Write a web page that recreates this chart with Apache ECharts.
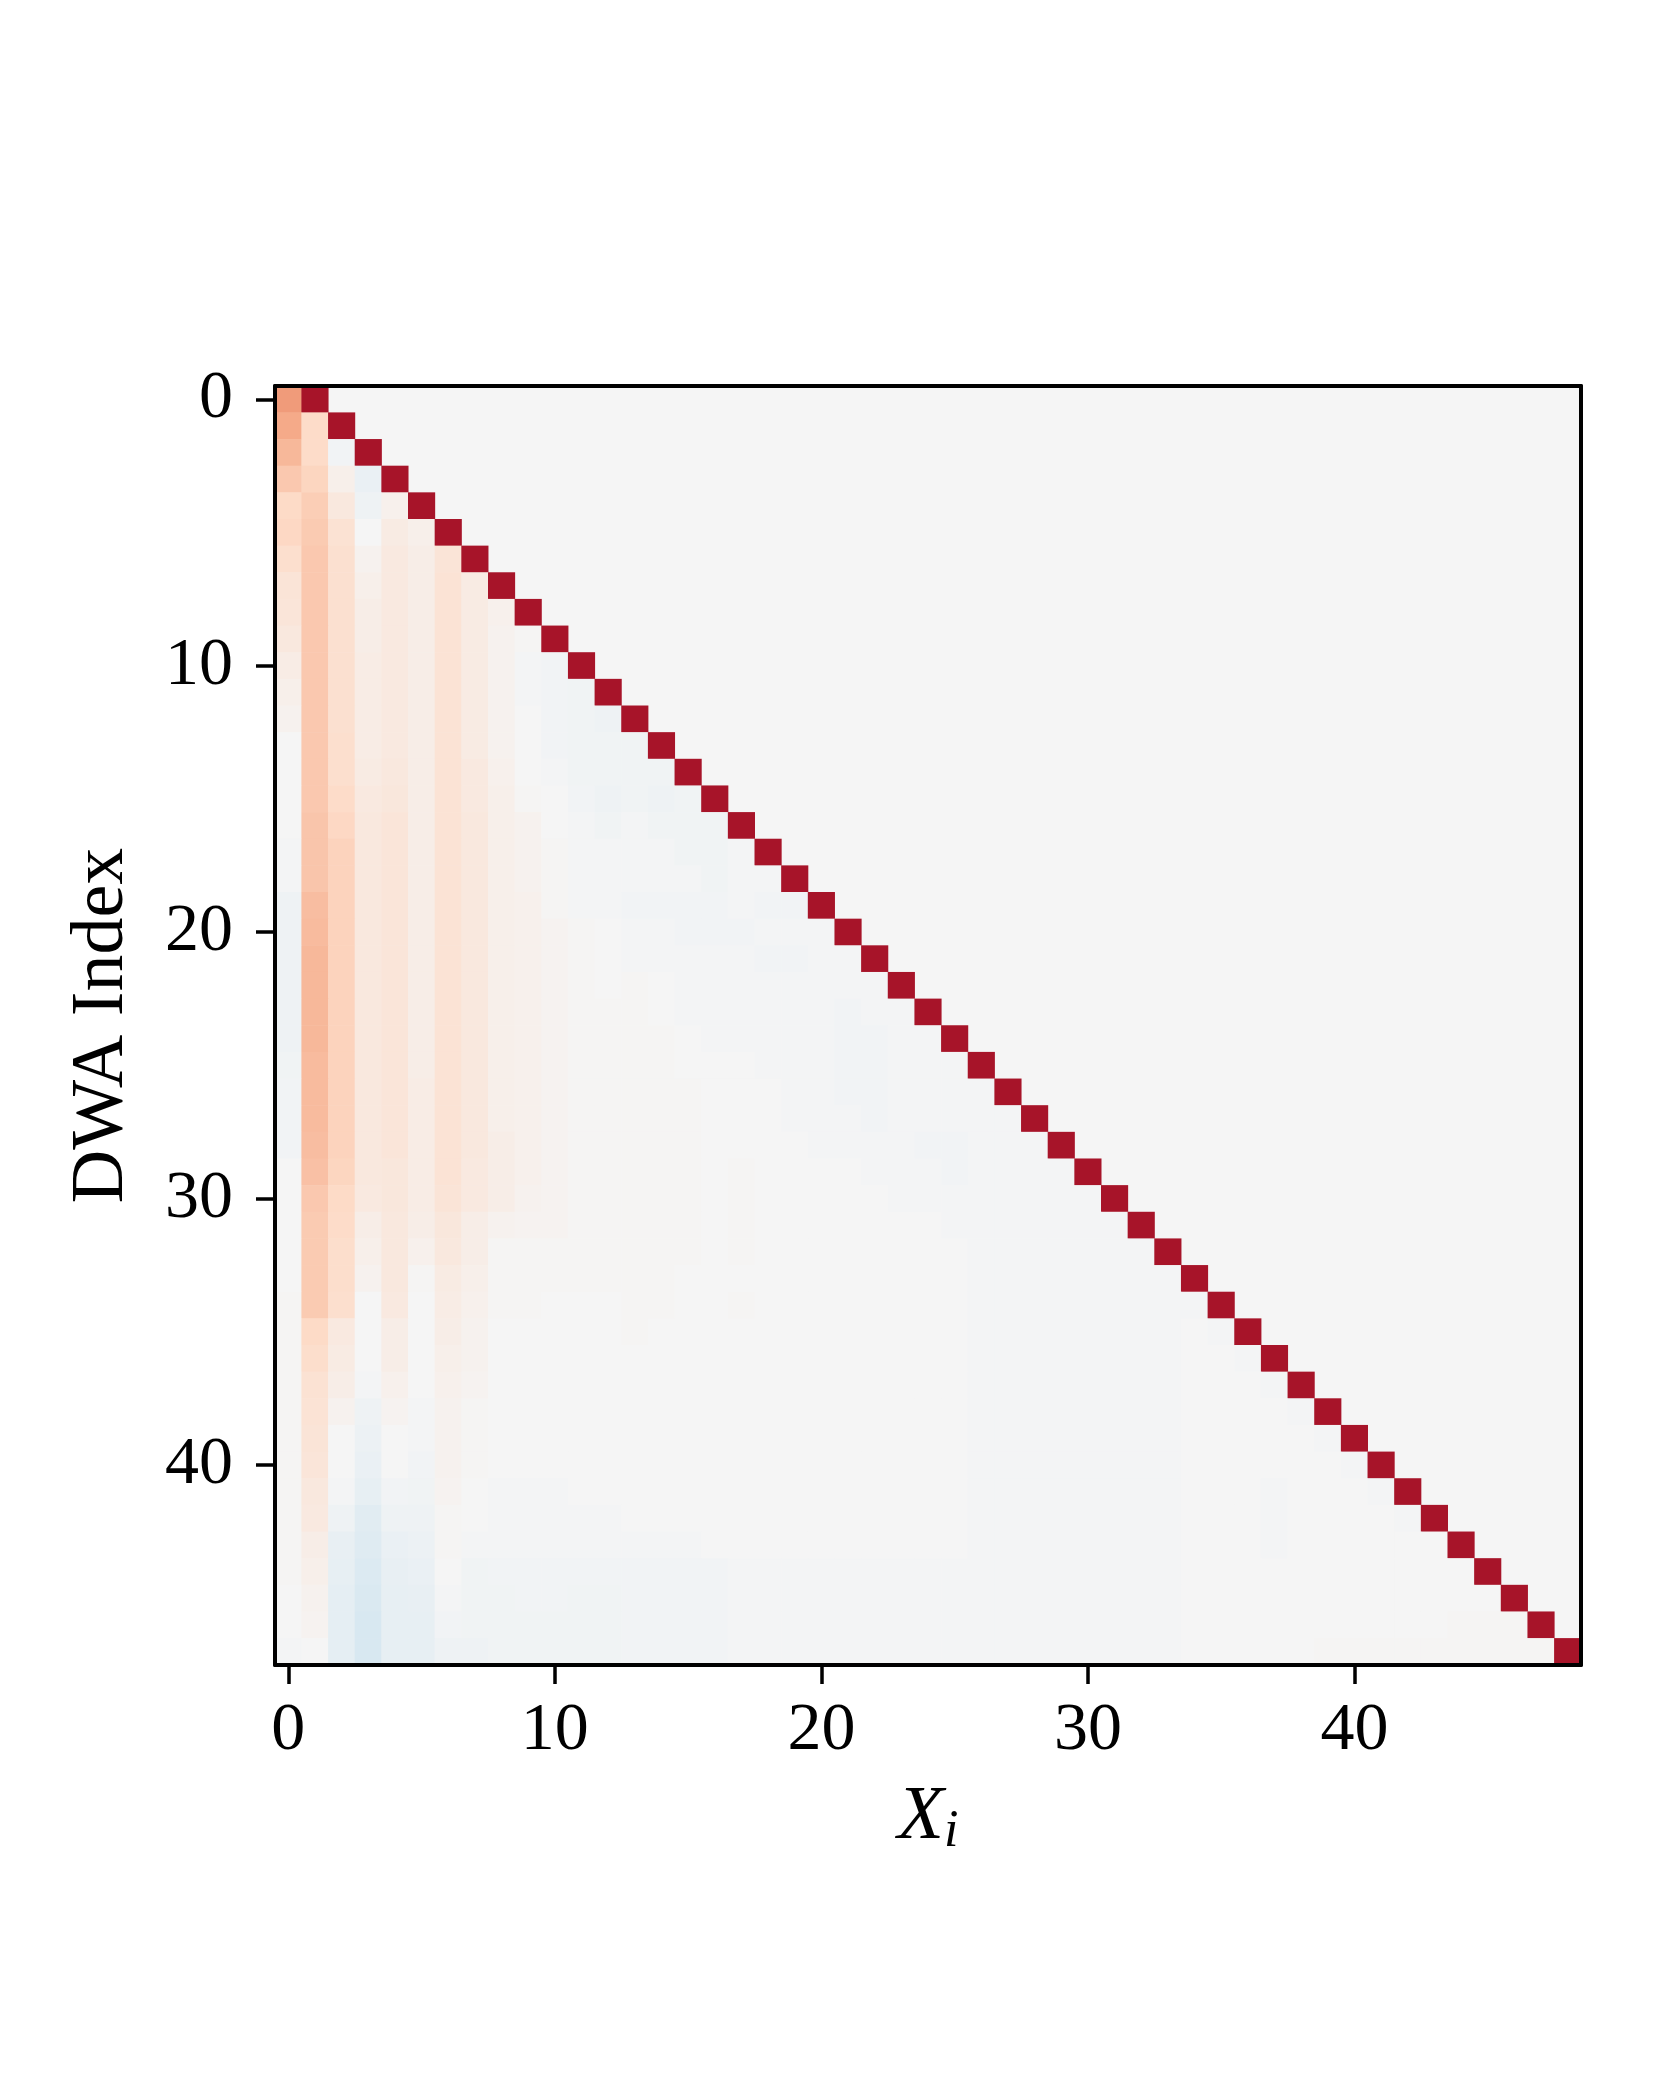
<!DOCTYPE html>
<html>
<head>
<meta charset="utf-8">
<script src="https://cdn.jsdelivr.net/npm/echarts@6/dist/echarts.min.js"></script>
<style>
  html, body { margin: 0; padding: 0; background: #fff; }
  #chart { width: 1661px; height: 2076px; }
</style>
</head>
<body>
<div id="chart"></div>
<script>
// weights x100; row r holds columns 0..r, column r+1 is the diagonal cell
const rows = [
  [43],
  [38, 19],
  [33, 19, -2],
  [27, 22, 5, -6],
  [20, 25, 10, -4, 4],
  [21, 26, 15, 0, 8, 5],
  [17, 27, 16, 3, 9, 6, 13],
  [13, 27, 16, 5, 9, 6, 14, 8],
  [12, 27, 16, 6, 9, 6, 14, 8, 4],
  [10, 27, 16, 6, 9, 6, 14, 8, 3, 1],
  [7, 27, 16, 7, 9, 6, 14, 8, 3, -1, -2],
  [5, 27, 16, 7, 9, 6, 14, 8, 3, -1, -2, -3],
  [3, 27, 16, 7, 9, 6, 14, 8, 3, 0, -2, -3, -4],
  [0, 27, 17, 7, 9, 6, 14, 8, 3, 0, -2, -3, -3, -3],
  [0, 27, 17, 8, 10, 6, 14, 9, 4, 0, -1, -3, -3, -3, -3],
  [0, 27, 19, 9, 11, 6, 14, 9, 5, 1, 0, -2, -4, -3, -4, -3],
  [0, 28, 21, 10, 12, 6, 14, 10, 5, 3, 0, -1, -3, -1, -3, -3, -3],
  [-1, 28, 23, 10, 12, 6, 14, 10, 5, 3, 1, -1, -1, -1, -1, -3, -3, -1],
  [-1, 28, 23, 10, 12, 6, 14, 10, 5, 3, 1, -1, -1, -1, -1, -1, -3, -1, -1],
  [-4, 31, 23, 10, 12, 6, 14, 10, 5, 4, 1, -1, -1, -2, -2, -2, -2, -1, -2, -2],
  [-4, 32, 23, 10, 12, 6, 14, 10, 5, 4, 2, 1, 0, -1, -1, -2, -2, -2, -1, -1, -1],
  [-4, 33, 23, 10, 12, 6, 14, 10, 5, 4, 2, 1, 0, -1, -1, -1, -1, -1, -2, -2, -1, -1],
  [-4, 33, 23, 10, 12, 6, 14, 10, 5, 4, 2, 1, 0, 1, 0, -1, -1, -1, -1, -1, -1, -1, -1],
  [-4, 33, 23, 10, 12, 6, 14, 10, 5, 4, 2, 1, 1, 1, 0, -1, -1, -1, -1, -1, -1, -2, -1, -1],
  [-4, 33, 23, 10, 12, 6, 14, 10, 5, 4, 2, 1, 1, 1, 1, 0, -1, -1, -1, -1, -1, -2, -2, -1, -1],
  [-3, 32, 23, 10, 12, 6, 14, 10, 5, 4, 2, 1, 1, 1, 1, 0, 0, 0, -1, -1, -1, -2, -2, -1, -1, -1],
  [-2, 32, 23, 10, 12, 7, 14, 10, 5, 4, 2, 1, 1, 1, 1, 1, 0, 0, 0, -1, -1, -2, -2, -1, -1, -1, -1],
  [-2, 32, 23, 10, 12, 7, 14, 10, 5, 4, 2, 1, 1, 1, 1, 1, 0, 0, 0, -1, -1, -1, -2, -1, -1, -1, -1, -1],
  [-2, 31, 23, 10, 12, 7, 14, 10, 6, 4, 2, 1, 1, 1, 1, 1, 0, 0, 0, 0, -1, -1, -1, -1, -2, -2, -1, -1, -1],
  [0, 30, 22, 10, 11, 7, 14, 9, 6, 4, 2, 1, 1, 1, 1, 1, 0, 1, 0, 0, 0, 0, -1, -1, -1, -2, -1, -1, -1, -1],
  [0, 27, 20, 9, 11, 7, 13, 9, 6, 3, 2, 1, 1, 1, 1, 1, 0, 1, 0, 0, 0, 0, 0, -1, -1, -1, -1, -1, -1, -1, -1],
  [0, 26, 19, 6, 10, 6, 11, 6, 3, 2, 2, 1, 1, 1, 1, 1, 0, 1, 0, 0, 0, 0, 0, 0, 0, -1, -1, -1, -1, -1, -1, -1],
  [0, 26, 18, 5, 10, 4, 10, 6, 1, 1, 1, 1, 1, 1, 1, 1, 0, 1, 0, 0, 0, 0, 0, 0, 0, 0, -1, -1, -1, -1, -1, -1, -1],
  [0, 26, 18, 3, 10, 1, 8, 5, 1, 1, 1, 1, 1, 1, 1, 0, 0, 0, 0, 0, 0, 0, 0, 0, 0, 0, -1, -1, -1, -1, -1, -1, -1, -1],
  [1, 26, 17, 0, 9, 0, 7, 4, 1, 1, 0, 0, 0, 1, 1, 0, 0, 1, 0, 0, 0, 0, 0, 0, 0, 0, -1, -1, -1, -1, -1, -1, -1, -1, -1],
  [1, 20, 9, 0, 6, 0, 6, 3, 0, 0, 0, 0, 0, 1, 0, 0, 0, 0, 0, 0, 0, 0, 0, 0, 0, 0, -1, -1, -1, -1, -1, -1, -1, -1, 0, -1],
  [1, 18, 8, 0, 6, 0, 5, 3, 0, 0, 0, 0, 0, 0, 0, 0, 0, 0, 0, 0, 0, 0, 0, 0, 0, 0, -1, -1, -1, -1, -1, -1, -1, -1, 0, 0, -1],
  [1, 15, 6, -1, 4, 0, 4, 2, 0, 0, 0, 0, 0, 0, 0, 0, 0, 0, 0, 0, 0, 0, 0, 0, 0, 0, -1, -1, -1, -1, -1, -1, -1, -1, 0, 0, 0, -1],
  [1, 14, 3, -4, 2, -1, 3, 1, 0, 0, 0, 0, 0, 0, 0, 0, 0, 0, 0, 0, 0, 0, 0, 0, 0, 0, -1, -1, -1, -1, -1, -1, -1, -1, 0, 0, 0, 0, -1],
  [1, 13, 0, -5, 0, -1, 3, 1, 0, 0, 0, 0, 0, 0, 0, 0, 0, 0, 0, 0, 0, 0, 0, 0, 0, 0, -1, -1, -1, -1, -1, -1, -1, -1, 0, 0, 0, 0, 0, -1],
  [1, 12, 0, -6, 0, -2, 3, 1, 0, 0, 0, 0, 0, 0, 0, 0, 0, 0, 0, 0, 0, 0, 0, 0, 0, 0, -1, -1, -1, -1, -1, -1, -1, -1, 0, 0, 0, 0, 0, 0, -1],
  [1, 10, -1, -8, -2, -3, 2, 0, -1, -1, -1, 0, 0, 0, 0, 0, 0, 0, 0, 0, 0, 0, 0, 0, 0, 0, -1, -1, -1, -1, -1, -1, -1, -1, 0, 0, 0, -1, 0, 0, 0, -1],
  [1, 9, -4, -11, -4, -4, 1, 0, -1, -1, -1, -1, -1, 0, 0, 0, 0, 0, 0, 0, 0, 0, 0, 0, 0, 0, -1, -1, -1, -1, -1, -1, -1, -1, 0, 0, 0, -1, 0, 0, 0, 0, -1],
  [1, 6, -7, -12, -6, -5, 1, -1, -1, -1, -1, -1, -1, -1, -1, -1, 0, 0, 0, 0, 0, 0, 0, 0, 0, 0, -1, -1, -1, -1, -1, -1, -1, -1, 0, 0, 0, -1, 0, 0, 0, 0, 0, 0],
  [1, 5, -8, -14, -7, -6, 0, -3, -2, -2, -2, -2, -2, -2, -2, -2, -2, -1, -1, -1, -1, -1, -1, -1, -1, -1, -1, -1, -1, -1, -1, -1, -1, -1, 0, 0, 0, 0, 0, 0, 0, 0, 0, 0, 0],
  [0, 3, -9, -15, -8, -7, -1, -3, -3, -2, -2, -3, -3, -2, -2, -2, -2, -1, -1, -1, -1, -1, -1, -1, -1, -1, -1, -1, -1, -1, -1, -1, -1, -1, 0, 0, 0, 0, 0, 0, 0, 0, 0, 0, 0, 0],
  [0, 2, -9, -16, -8, -8, -2, -3, -3, -3, -3, -3, -3, -2, -2, -2, -2, -1, -1, -1, -1, -1, -1, -1, -1, -1, -1, -1, -1, -1, -1, -1, -1, -1, 0, 0, 0, 0, 0, 0, 0, 0, 0, 0, 1, 1, 1],
  [-1, 0, -9, -16, -8, -8, -4, -4, -3, -3, -3, -3, -3, -2, -2, -2, -2, -1, -1, -1, -1, -1, -1, -1, -1, -1, -1, -1, -1, -1, -1, -1, -1, -1, 0, 0, 0, 0, 0, 1, 1, 1, 1, 1, 1, 1, 1, 1]
];
const diagValue = 83;
const xTickLabels = [0, 10, 20, 30, 40];
const yTickLabels = [0, 10, 20, 30, 40];
const nCols = 49;
const nRows = 48;

const xCats = Array.from({length: nCols}, (_, i) => String(i));
const yCats = Array.from({length: nRows}, (_, i) => String(i));

// RdBu reversed
const rdbu = ['#053061', '#2166ac', '#4393c3', '#92c5de', '#d1e5f0', '#f5f5f5',
              '#fddbc7', '#f4a582', '#d6604d', '#b2182b', '#67001f'];

const cells = [];
rows.forEach(function (row, r) {
  row.forEach(function (v, c) { cells.push([c, r, v / 100]); });
  cells.push([r + 1, r, diagValue / 100]);
});

const serif = 'Liberation Serif';
const frame = {show: true, lineStyle: {color: '#000', width: 4}};

const chart = echarts.init(document.getElementById('chart'));
chart.setOption({
  backgroundColor: '#fff',
  animation: false,
  grid: {
    left: 275, top: 386, width: 1306, height: 1279,
    show: true, backgroundColor: '#f5f5f5', borderWidth: 0
  },
  visualMap: {
    show: false, type: 'continuous', min: -1, max: 1, dimension: 2,
    inRange: {color: rdbu}
  },
  xAxis: [
    {
      type: 'category', data: xCats, position: 'bottom', z: 5,
      axisLine: frame,
      axisTick: {
        show: true, alignWithLabel: true, length: 19,
        lineStyle: {color: '#000', width: 3.5},
        interval: function (i) { return xTickLabels.indexOf(i) >= 0; }
      },
      axisLabel: {
        margin: 32, fontFamily: serif, fontSize: 68, color: '#000',
        interval: function (i) { return xTickLabels.indexOf(i) >= 0; }
      },
      splitLine: {show: false},
      name: '{a|X}{b|i}', nameLocation: 'middle', nameGap: 113,
      nameTextStyle: {
        rich: {
          a: {fontFamily: serif, fontStyle: 'italic', fontSize: 76, lineHeight: 80, color: '#000'},
          b: {fontFamily: serif, fontStyle: 'italic', fontSize: 52, lineHeight: 36, verticalAlign: 'bottom', color: '#000'}
        }
      }
    },
    {
      type: 'category', data: xCats, position: 'top', z: 5,
      axisLine: frame, axisTick: {show: false}, axisLabel: {show: false}
    }
  ],
  yAxis: [
    {
      type: 'category', data: yCats, inverse: true, position: 'left', z: 5,
      axisLine: frame,
      axisTick: {
        show: true, alignWithLabel: true, length: 19,
        lineStyle: {color: '#000', width: 3.5},
        interval: function (i) { return yTickLabels.indexOf(i) >= 0; }
      },
      axisLabel: {
        margin: 42, fontFamily: serif, fontSize: 68, color: '#000',
        interval: function (i) { return yTickLabels.indexOf(i) >= 0; }
      },
      splitLine: {show: false},
      name: 'DWA Index', nameLocation: 'middle', nameGap: 135, nameRotate: 90,
      nameTextStyle: {fontFamily: serif, fontSize: 74, color: '#000'}
    },
    {
      type: 'category', data: yCats, inverse: true, position: 'right', z: 5,
      axisLine: frame, axisTick: {show: false}, axisLabel: {show: false}
    }
  ],
  series: [{
    type: 'heatmap',
    xAxisIndex: 0, yAxisIndex: 0,
    data: cells,
    progressive: 0,
    itemStyle: {borderWidth: 0},
    emphasis: {disabled: true}
  }]
});
</script>
</body>
</html>
